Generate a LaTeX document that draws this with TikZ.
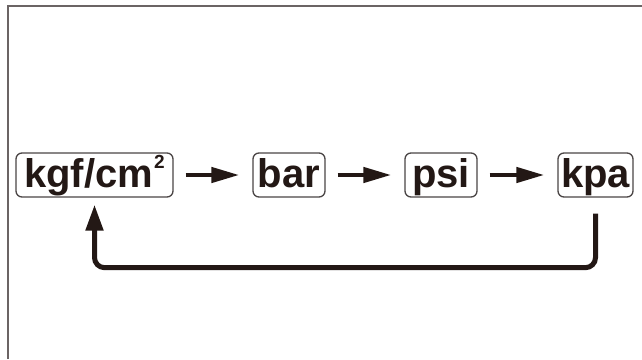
\documentclass[tikz,border=0pt]{standalone}
\usepackage{fontspec}
\setmainfont{Liberation Sans}
\usetikzlibrary{arrows.meta}
\definecolor{ink}{HTML}{231815}
\definecolor{framegray}{HTML}{6B6464}
\definecolor{boxgray}{HTML}{4A4545}
\newcommand{\supsmall}[1]{\raisebox{19pt}{\fontsize{19}{19}\selectfont #1}}
\tikzset{
  unitbox/.style={draw=boxgray, line width=1.3pt, rounded corners=6pt, fill=white,
    text=ink, font=\fontsize{40}{40}\selectfont\bfseries,
    inner xsep=3pt, inner ysep=3pt, text height=31pt, text depth=7pt},
  flowarrow/.style={draw=ink, line width=4.5pt,
    -{Triangle[length=28pt,width=15pt]}, shorten <=12pt, shorten >=13pt},
  backarrow/.style={draw=ink, line width=5pt, rounded corners=10pt,
    -{Triangle[length=26pt,width=17pt]}}
}
\begin{document}
\begin{tikzpicture}[x=1pt,y=-1pt]
\useasboundingbox (0,0) rectangle (642,359);
\draw[framegray, line width=1.6pt] (8,359) -- (8,6) -- (642,6);
\node[unitbox, minimum width=157pt] (kgf) at (94.5,175) {kgf/cm\kern1pt\supsmall{2}};
\node[unitbox, minimum width=72pt] (bar) at (289,175) {bar};
\node[unitbox, minimum width=72pt] (psi) at (441,175) {psi};
\node[unitbox, minimum width=75pt] (kpa) at (595.5,175) {kpa};
\draw[flowarrow] (kgf.east) -- (bar.west);
\draw[flowarrow] (bar.east) -- (psi.west);
\draw[flowarrow] (psi.east) -- (kpa.west);
\draw[backarrow] ([yshift=-16pt]kpa.south) |- ([yshift=-70pt]kgf.south) -- ([yshift=-7pt]kgf.south);
\end{tikzpicture}
\end{document}
